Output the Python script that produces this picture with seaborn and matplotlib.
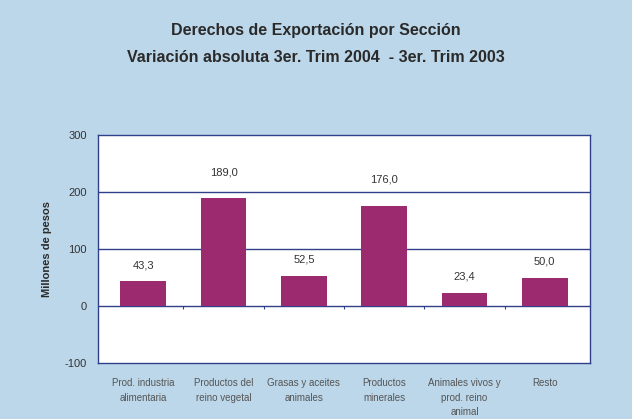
import numpy as np
import pandas as pd
import matplotlib.pyplot as plt
import seaborn as sns

# datos
secciones = ["Prod. industria\nalimentaria", "Productos del\nreino vegetal",
             "Grasas y aceites\nanimales", "Productos\nminerales",
             "Animales vivos y\nprod. reino\nanimal", "Resto"]
variacion = [43.3, 189.0, 52.5, 176.0, 23.4, 50.0]
y_ticks = [-100, 0, 100, 200, 300]

fondo = "#bcd7e9"
azul = "#2f3f8a"
barra = "#9b2a6e"

sns.set_style("white")
plt.rcParams["font.family"] = ["Liberation Sans", "DejaVu Sans"]

df = pd.DataFrame({"Seccion": secciones, "Variacion": variacion})

fig = plt.figure(figsize=(6.32, 4.19), dpi=100, facecolor=fondo)
ax = fig.add_axes([98 / 632, 1 - 363 / 419, 492 / 632, 228 / 419])
ax.set_facecolor("white")

sns.barplot(data=df, x="Seccion", y="Variacion", color=barra, saturation=1,
            width=0.57, linewidth=0, ax=ax, zorder=3)

ax.set_ylim(-100, 300)
ax.set_yticks(y_ticks)
ax.set_yticklabels([str(t) for t in y_ticks], fontsize=8, color="#333333")
for v in [0, 100, 200]:
    ax.axhline(v, color=azul, lw=1, zorder=2)
for s in ax.spines.values():
    s.set_color(azul)
    s.set_linewidth(1)

# marcas entre categorias sobre la linea de cero
n = len(secciones)
ax.vlines(np.arange(n - 1) + 0.5, -5, 0, color=azul, lw=0.8, zorder=2)

ax.tick_params(axis="x", length=0, pad=11)
ax.tick_params(axis="y", length=0, pad=8)
ax.set_xticks(range(n))
ax.set_xticklabels(secciones, fontsize=7, color="#555555", linespacing=1.55)
ax.set_xlabel("")
ax.set_ylabel("Millones de pesos", fontsize=8, fontweight="bold",
              color="#2a2a2a", labelpad=9)

# etiquetas de valor
for i, v in enumerate(variacion):
    ax.annotate(f"{v:.1f}".replace(".", ","), (i, v), xytext=(0, 15 if v > 100 else 8),
                textcoords="offset points", ha="center", va="bottom",
                fontsize=8, color="#333333")

fig.text(0.5, 1 - 30 / 419, "Derechos de Exportación por Sección",
         ha="center", va="center", fontsize=11.5, fontweight="bold", color="#2a2a2a")
fig.text(0.5, 1 - 57 / 419, "Variación absoluta 3er. Trim 2004  - 3er. Trim 2003",
         ha="center", va="center", fontsize=11.5, fontweight="bold", color="#2a2a2a")

fig.savefig("out.png", dpi=100, facecolor=fondo)
